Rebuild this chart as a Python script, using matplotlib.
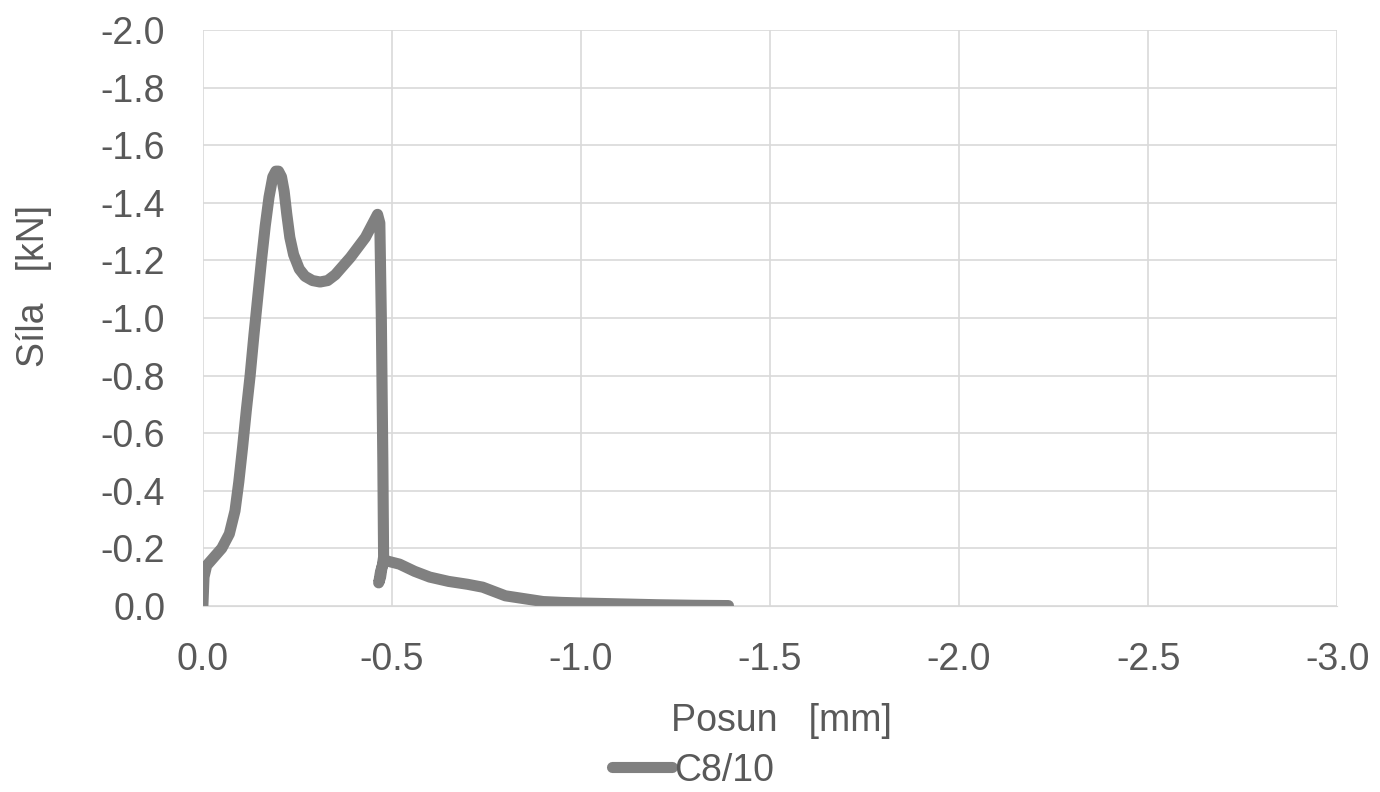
import numpy as np
from matplotlib import pyplot as plt
from matplotlib.ticker import FormatStrFormatter

plt.rcParams['font.family'] = ['Liberation Sans', 'DejaVu Sans']
plt.rcParams['axes.unicode_minus'] = False

# posun [mm] and sila [kN]
posun = [0, -0.003, -0.01, -0.03, -0.05, -0.07, -0.085, -0.095, -0.105, -0.115,
         -0.125, -0.135, -0.145, -0.155, -0.165, -0.175, -0.185, -0.193, -0.2,
         -0.208, -0.215, -0.222, -0.23, -0.24, -0.255, -0.27, -0.29, -0.31,
         -0.33, -0.35, -0.37, -0.39, -0.41, -0.43, -0.45, -0.462, -0.468,
         -0.472, -0.476, -0.478, -0.47, -0.465, -0.47, -0.48, -0.49, -0.52,
         -0.56, -0.6, -0.65, -0.7, -0.74, -0.76, -0.8, -0.85, -0.9, -0.95,
         -1.0, -1.1, -1.2, -1.3, -1.39]
sila = [0, -0.1, -0.14, -0.17, -0.2, -0.25, -0.33, -0.43, -0.55, -0.68,
        -0.8, -0.94, -1.07, -1.2, -1.32, -1.42, -1.49, -1.51, -1.51,
        -1.49, -1.44, -1.36, -1.28, -1.22, -1.17, -1.145, -1.13, -1.125,
        -1.13, -1.15, -1.18, -1.21, -1.245, -1.28, -1.33, -1.36, -1.33,
        -1.0, -0.5, -0.17, -0.1, -0.08, -0.12, -0.16, -0.155, -0.145,
        -0.12, -0.1, -0.085, -0.075, -0.065, -0.055, -0.035, -0.025, -0.015,
        -0.012, -0.01, -0.007, -0.004, -0.002, -0.001]

txt = '#595959'
fig = plt.figure(figsize=(13.8, 7.92), dpi=100)
ax = fig.add_axes([0.147, 0.235, 0.822, 0.727])
ax.plot(posun, sila, color='#808080', lw=8, solid_capstyle='round',
        solid_joinstyle='round', label='C8/10')

ax.set_xlim(0, -3.0)
ax.set_ylim(0, -2.0)
ax.set_xticks(np.arange(0, -3.01, -0.5))
ax.set_yticks(np.arange(0, -2.01, -0.2))
ax.xaxis.set_major_formatter(FormatStrFormatter('%.1f'))
ax.yaxis.set_major_formatter(FormatStrFormatter('%.1f'))
ax.grid(True, color='#d9d9d9', lw=1.2)
ax.set_axisbelow(True)
for s in ax.spines.values():
    s.set_visible(False)
ax.spines['bottom'].set_visible(True)
ax.spines['bottom'].set_color('#d9d9d9')
ax.tick_params(length=0, labelsize=27, colors=txt)
ax.tick_params(axis='x', pad=26)
ax.tick_params(axis='y', pad=27)

ax.set_xlabel('Posun   [mm]', fontsize=27, color=txt)
ax.set_ylabel('Síla   [kN]', fontsize=27, color=txt)
ax.xaxis.set_label_coords(0.51, -0.168)
ax.yaxis.set_label_coords(-0.133, 0.555)

fig.legend(loc='center', bbox_to_anchor=(0.502, 0.027), frameon=False,
           fontsize=27, labelcolor=txt, handlelength=1.6, handletextpad=0.05)

plt.savefig('out.png')
